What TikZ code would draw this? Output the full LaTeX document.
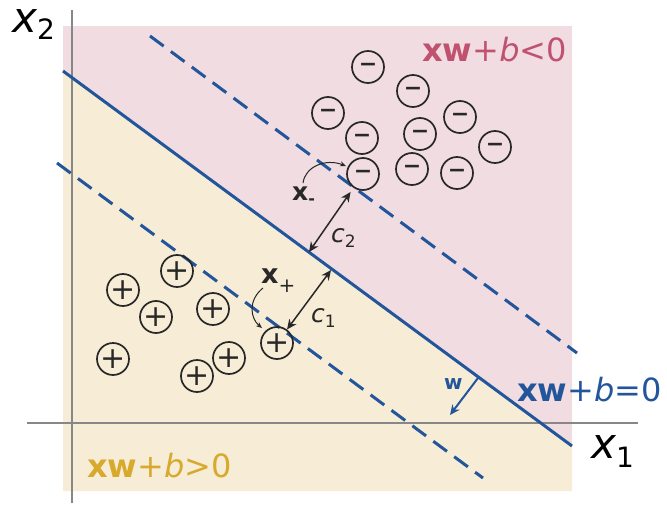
\documentclass[tikz,border=0pt]{standalone}
\usepackage{fontspec}
\setmainfont{DejaVu Sans}
\usetikzlibrary{arrows.meta}
\definecolor{pinkbg}{RGB}{240,220,225}
\definecolor{yellowbg}{RGB}{247,237,214}
\definecolor{lineblue}{RGB}{35,85,155}
\definecolor{redtxt}{RGB}{192,82,112}
\definecolor{goldtxt}{RGB}{215,170,45}
\definecolor{axisgray}{RGB}{135,135,135}
\definecolor{ink}{RGB}{40,40,40}
\tikzset{
  sample/.style={circle,draw=ink,line width=1.7pt,minimum size=32pt,inner sep=0pt,text=ink},
  negsample/.style={sample,font=\fontsize{22}{22}\selectfont\bfseries},
  possample/.style={sample,font=\fontsize{30}{30}\selectfont},
  lbl/.style={anchor=base west,inner sep=0pt},
  eqlbl/.style={lbl,font=\fontsize{32}{32}\selectfont},
  hyper/.style={line width=3pt,draw=lineblue},
  margin/.style={hyper,dash pattern=on 17pt off 9pt},
  axis/.style={line width=1.5pt,draw=axisgray},
  dist/.style={line width=1.5pt,draw=ink,{Stealth[length=10pt,width=9pt]}-{Stealth[length=10pt,width=9pt]}},
  point/.style={line width=1pt,draw=ink,-{Stealth[length=6pt,width=5pt]}}
}
\begin{document}
\begin{tikzpicture}[x=1pt,y=-1pt]
\useasboundingbox (0,0) rectangle (667,506);
% backgrounds
\fill[pinkbg] (63,26) -- (572,26) -- (572,446) -- (63,71) -- cycle;
\fill[yellowbg] (63,71) -- (572,446) -- (572,491) -- (63,491) -- cycle;
% axes
\coordinate (ax1a) at (27,423);
\coordinate (ax1b) at (638,423);
\coordinate (ax2a) at (72,503);
\coordinate (ax2b) at (72,10);
\draw[axis] (ax1a) -- (ax1b);
\draw[axis] (ax2a) -- (ax2b);
% lines
\coordinate (hA) at (63,71);
\coordinate (hB) at (572,446);
\coordinate (uA) at (150,36);
\coordinate (uB) at (577,353);
\coordinate (lA) at (57,163);
\coordinate (lB) at (483,478);
\draw[margin] (uA) -- (uB);
\draw[margin] (lA) -- (lB);
\draw[hyper] (hA) -- (hB);
% negative samples
\node[negsample] (m1) at (368,67) {−};
\node[negsample] (m2) at (413,91) {−};
\node[negsample] (m3) at (328,113) {−};
\node[negsample] (m4) at (460,117) {−};
\node[negsample] (m5) at (362,138) {−};
\node[negsample] (m6) at (420,134) {−};
\node[negsample] (m7) at (495,147) {−};
\node[negsample] (m8) at (363,174) {−};
\node[negsample] (m9) at (412,169) {−};
\node[negsample] (m10) at (457,173) {−};
% positive samples
\node[possample] (p1) at (177,271) {+};
\node[possample] (p2) at (123,290) {+};
\node[possample] (p3) at (213,309) {+};
\node[possample] (p4) at (156,317) {+};
\node[possample] (p5) at (113,359) {+};
\node[possample] (p6) at (229,358) {+};
\node[possample] (p7) at (197,376) {+};
\node[possample] (p8) at (277,343) {+};
% distances
\coordinate (c1t) at (331,270);
\coordinate (c2b) at (309,252);
\draw[dist] (p8) -- (c1t);
\draw[dist, shorten <=5pt] (m8) -- (c2b);
% normal vector
\coordinate (wA) at (478,378);
\coordinate (wB) at (450,415);
\draw[line width=2pt,draw=lineblue,-{Stealth[length=10pt,width=9pt]}] (wA) -- (wB);
% labels
\node[lbl,font=\fontsize{42}{42}\selectfont] (x2) at (12,32) {\itshape x\upshape\raisebox{-7pt}{\fontsize{28}{28}\selectfont 2}};
\node[lbl,font=\fontsize{42}{42}\selectfont] (x1) at (591,458) {\itshape x\upshape\raisebox{-9pt}{\fontsize{28}{28}\selectfont 1}};
\node[eqlbl,text=redtxt,anchor=base east] (eqneg) at (567,61) {\textbf{xw}+\textit{b}<0};
\node[eqlbl,text=lineblue] (eqzero) at (517,401) {\textbf{xw}+\textit{b}=0};
\node[eqlbl,text=goldtxt] (eqpos) at (87,477) {\textbf{xw}+\textit{b}>0};
\node[lbl,text=lineblue,font=\fontsize{20}{20}\selectfont\bfseries] (wl) at (444,389) {w};
\node[lbl,text=ink,font=\fontsize{27}{27}\selectfont] (xp) at (261,283) {\textbf{x}\raisebox{-9pt}{\fontsize{20}{20}\selectfont +}};
\node[lbl,text=ink,font=\fontsize{25}{25}\selectfont] (xm) at (292,200) {\textbf{x}\raisebox{-4pt}{\fontsize{16}{16}\selectfont\bfseries -}};
\node[lbl,text=ink,font=\fontsize{25}{25}\selectfont] (c1) at (311,322) {\textit{c}\raisebox{-5pt}{\fontsize{17}{17}\selectfont 1}};
\node[lbl,text=ink,font=\fontsize{25}{25}\selectfont] (c2) at (331,242) {\textit{c}\raisebox{-5pt}{\fontsize{17}{17}\selectfont 2}};
% pointer arrows
\coordinate (xpS) at (263,288);
\coordinate (xpE) at (262,328);
\draw[point] (xpS) .. controls (248,300) and (250,318) .. (xpE);
\coordinate (xmS) at (303,183);
\coordinate (xmE) at (346,166);
\draw[point] (xmS) .. controls (305,167) and (325,158) .. (xmE);
\end{tikzpicture}
\end{document}
